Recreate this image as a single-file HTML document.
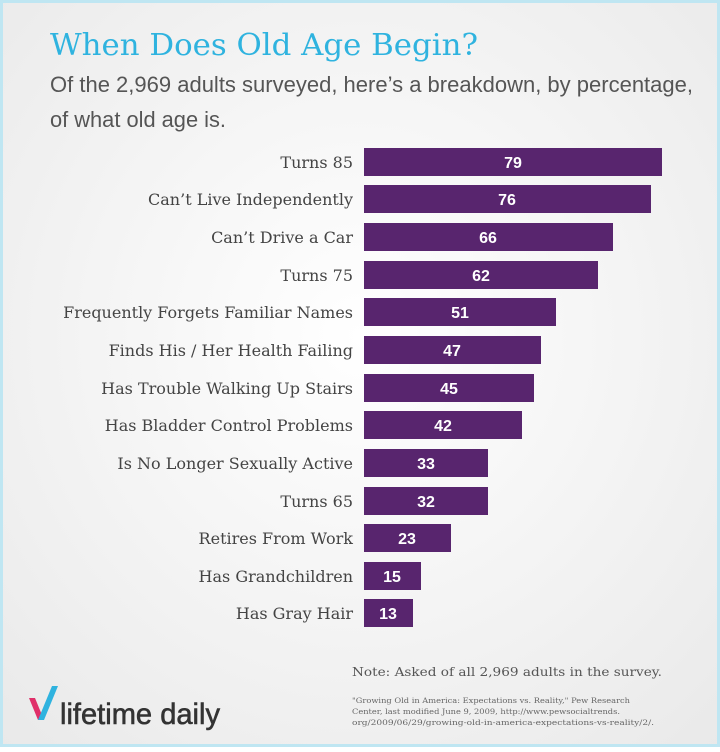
<!DOCTYPE html>
<html><head><meta charset="utf-8"><style>
html,body{margin:0;padding:0}
body{width:720px;height:747px;overflow:hidden}
</style></head><body>
<svg width="720" height="747" xmlns="http://www.w3.org/2000/svg">
<defs><radialGradient id="bg" cx="0.5" cy="0.45" r="0.75">
<stop offset="0" stop-color="#ffffff"/><stop offset="1" stop-color="#e9e9e9"/></radialGradient></defs>
<rect width="720" height="747" fill="#bfe6f2"/>
<rect x="3" y="3" width="714" height="741" fill="url(#bg)"/>
<text x="50" y="55" font-family="DejaVu Serif, serif" font-size="30" fill="#2fb3df" textLength="428" lengthAdjust="spacingAndGlyphs">When Does Old Age Begin?</text>
<text x="50" y="92" font-family="Liberation Sans, sans-serif" font-size="22" fill="#555" textLength="643" lengthAdjust="spacingAndGlyphs">Of the 2,969 adults surveyed, here’s a breakdown, by percentage,</text>
<text x="50" y="127" font-family="Liberation Sans, sans-serif" font-size="22" fill="#555" textLength="176" lengthAdjust="spacingAndGlyphs">of what old age is.</text>
<g font-family="DejaVu Serif, serif" font-size="16" fill="#444" text-anchor="end">
<text x="353" y="168">Turns 85</text>
<text x="353" y="205">Can’t Live Independently</text>
<text x="353" y="243">Can’t Drive a Car</text>
<text x="353" y="281">Turns 75</text>
<text x="353" y="318">Frequently Forgets Familiar Names</text>
<text x="353" y="356">Finds His / Her Health Failing</text>
<text x="353" y="394">Has Trouble Walking Up Stairs</text>
<text x="353" y="431">Has Bladder Control Problems</text>
<text x="353" y="469">Is No Longer Sexually Active</text>
<text x="353" y="507">Turns 65</text>
<text x="353" y="544">Retires From Work</text>
<text x="353" y="582">Has Grandchildren</text>
<text x="353" y="619">Has Gray Hair</text>
</g>
<g fill="#58256e">
<rect x="364" y="148" width="298" height="28"/>
<rect x="364" y="185" width="287" height="28"/>
<rect x="364" y="223" width="249" height="28"/>
<rect x="364" y="261" width="234" height="28"/>
<rect x="364" y="298" width="192" height="28"/>
<rect x="364" y="336" width="177" height="28"/>
<rect x="364" y="374" width="170" height="28"/>
<rect x="364" y="411" width="158" height="28"/>
<rect x="364" y="449" width="124" height="28"/>
<rect x="364" y="487" width="124" height="28"/>
<rect x="364" y="524" width="87" height="28"/>
<rect x="364" y="562" width="57" height="28"/>
<rect x="364" y="599" width="49" height="28"/>
</g>
<g font-family="Liberation Sans, sans-serif" font-size="16" font-weight="bold" fill="#fff" text-anchor="middle">
<text x="513" y="168">79</text>
<text x="507" y="205">76</text>
<text x="488" y="243">66</text>
<text x="481" y="281">62</text>
<text x="460" y="318">51</text>
<text x="452" y="356">47</text>
<text x="449" y="394">45</text>
<text x="443" y="431">42</text>
<text x="426" y="469">33</text>
<text x="426" y="507">32</text>
<text x="407" y="544">23</text>
<text x="392" y="582">15</text>
<text x="388" y="619">13</text>
</g>
<text x="352" y="676" font-family="DejaVu Serif, serif" font-size="12" fill="#555" textLength="310" lengthAdjust="spacingAndGlyphs">Note: Asked of all 2,969 adults in the survey.</text>
<g font-family="DejaVu Serif, serif" font-size="7.5" fill="#666">
<text x="352" y="703" textLength="278" lengthAdjust="spacingAndGlyphs">"Growing Old in America: Expectations vs. Reality," Pew Research</text>
<text x="352" y="714" textLength="268" lengthAdjust="spacingAndGlyphs">Center, last modified June 9, 2009, http://www.pewsocialtrends.</text>
<text x="352" y="725" textLength="302" lengthAdjust="spacingAndGlyphs">org/2009/06/29/growing-old-in-america-expectations-vs-reality/2/.</text>
</g>
<path d="M29 698 L38 720 L44 720 L35 698 Z" fill="#e0306a"/>
<path d="M38 720 L44 720 L58 686 L52 686 Z" fill="#2fb3df"/>
<text x="60" y="724" font-family="Liberation Sans, sans-serif" font-size="30" fill="#333" stroke="#333" stroke-width="0.6" textLength="160" lengthAdjust="spacingAndGlyphs">lifetime daily</text>
</svg>
</body></html>
